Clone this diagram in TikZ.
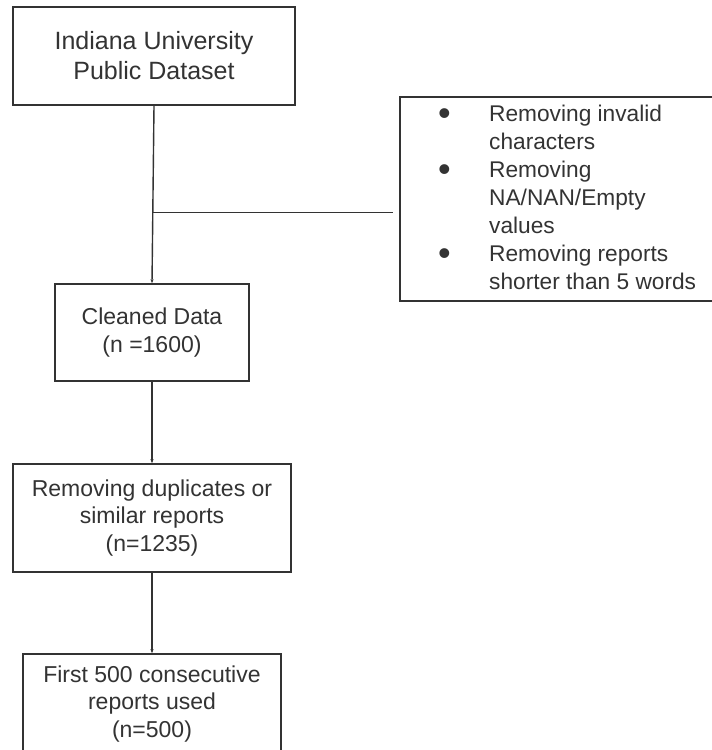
\documentclass[tikz,border=0pt]{standalone}
\usepackage{fontspec}
\setmainfont{Liberation Sans}
\usetikzlibrary{arrows.meta,calc}
\definecolor{ln}{HTML}{333333}
\definecolor{tx}{HTML}{333333}
\newcommand{\bul}{\smash{\raisebox{-4pt}{\fontsize{36}{28}\selectfont\textbullet}}}
\begin{document}
\begin{tikzpicture}[x=1pt,y=-1pt,
  box/.style={draw=ln,line width=1.5pt,align=center,text=tx,inner sep=0pt,
    font=\fontsize{23}{27.5}\selectfont},
  lst/.style={text=tx,inner sep=0pt,font=\fontsize{22.7}{28}\selectfont},
  conn/.style={draw=ln,line width=1.4pt,-{Stealth[length=4pt,width=3pt]}},
  plain/.style={draw=ln,line width=1.4pt}]
\useasboundingbox (0,0) rectangle (712,750);
\fill[white] (0,0) rectangle (712,750);
\node[box,minimum width=282pt,minimum height=98pt,font=\fontsize{25}{30}\selectfont] (b1) at (154,56)
  {Indiana University\\Public Dataset};
\node[box,minimum width=194pt,minimum height=97pt] (b2) at (152,332.5)
  {Cleaned Data\\(n =1600)};
\node[box,minimum width=278pt,minimum height=108pt] (b3) at (152,518)
  {Removing duplicates or\\similar reports\\(n=1235)};
\node[box,minimum width=258pt,minimum height=100pt] (b4) at (152,704)
  {First 500 consecutive\\reports used\\(n=500)};
\node[box,anchor=north west,minimum width=320pt,minimum height=204pt] (r) at (399,96) {};
\node[lst,anchor=north west] (rt) at (438,101.4)
  {\begin{tabular}{@{}p{51pt}@{}l@{}}
  \bul & Removing invalid\\
   & characters\\
  \bul & Removing\\
   & NA/NAN/Empty\\
   & values\\
  \bul & Removing reports\\
   & shorter than 5 words
  \end{tabular}};
\draw[conn] (b1.south) -- (b2.north);
\coordinate (j) at ($(b1.south)!0.6!(b2.north)$);
\draw[plain,shorten >=6pt] (j) -- (j -| r.west);
\draw[conn] (b2.south) -- (b3.north);
\draw[conn] (b3.south) -- (b4.north);
\end{tikzpicture}
\end{document}
